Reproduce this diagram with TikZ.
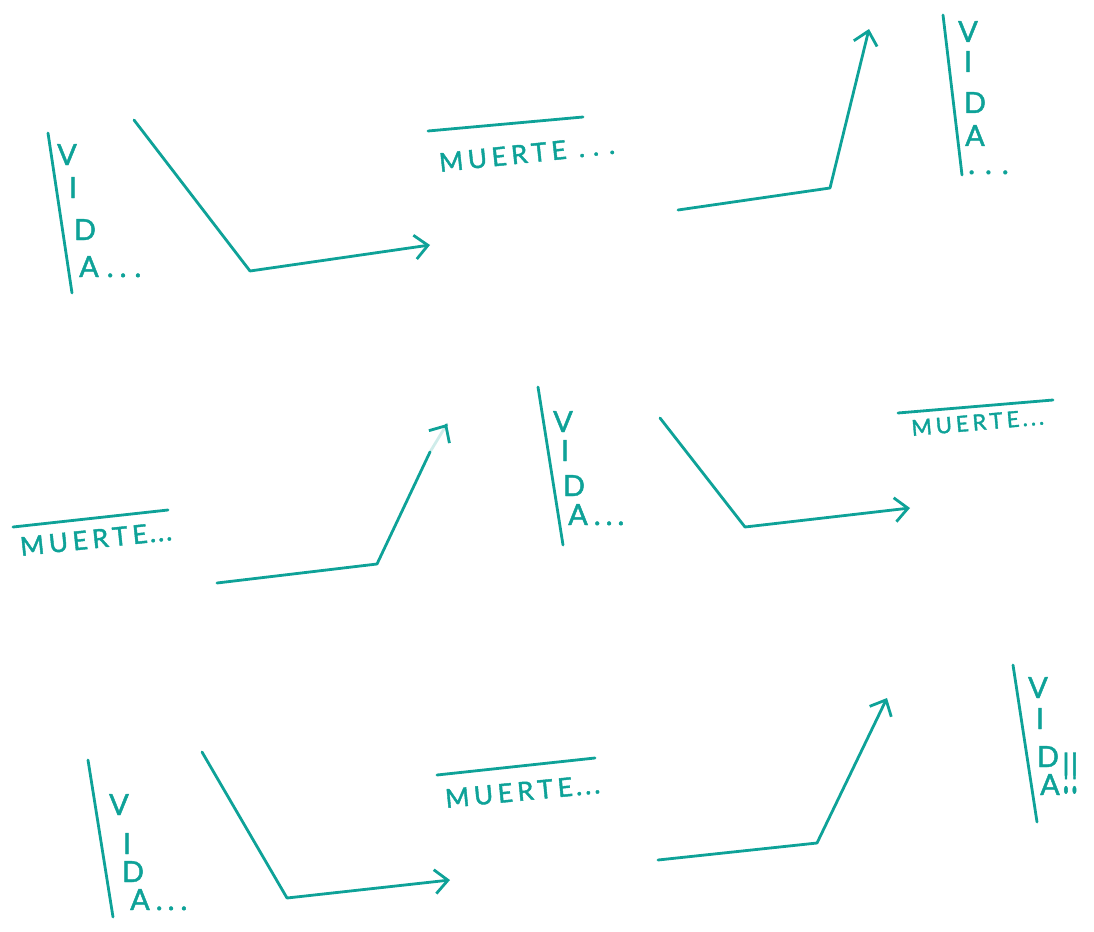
\documentclass[tikz,border=0pt]{standalone}
\usepackage{fontspec}
\setmainfont{Lato}
\newfontfamily\mano[LetterSpace=18,FakeBold=1.6]{Lato}
\usetikzlibrary{arrows.meta,calc}
\definecolor{verde}{RGB}{14,162,152}

\begin{document}
\begin{tikzpicture}[x=1pt,y=-1pt,
    tinta/.style={draw=verde, line width=2.8pt, line cap=round, line join=round},
    flecha/.style={tinta, -{Straight Barb[length=13pt,width=24pt]}},
    letra/.style={text=verde, font=\mano\fontsize{29}{29}\selectfont, inner sep=0pt,
        text height=20pt, text depth=0pt, anchor=base},
    frase/.style={text=verde, font=\mano\fontsize{26}{26}\selectfont, inner sep=0pt,
        text height=19pt, text depth=0pt, anchor=base west}]
    \useasboundingbox (0,0) rectangle (1094,931);

    % primera linea
    \coordinate (b1a) at (48,133);  \coordinate (b1b) at (72,293);
    \coordinate (z1a) at (134,120); \coordinate (z1b) at (250,271); \coordinate (z1c) at (430,245);
    \coordinate (m1a) at (428,131); \coordinate (m1b) at (583,117);
    \coordinate (z2a) at (678,210); \coordinate (z2b) at (830,188); \coordinate (z2c) at (869,29);
    \coordinate (b2a) at (943,15);  \coordinate (b2b) at (962,175);

    \draw[tinta] (b1a) -- (b1b);
    \foreach \l/\x/\y in {V/67/165, I/73/198, D/85/240}
        \node[letra] (v1\l) at (\x,\y) {\l};
    \node[letra, anchor=base west] (v1A) at (79,277) {A\hspace{8pt}.\hspace{6pt}.\hspace{8pt}.};
    \draw[flecha] (z1a) -- (z1b) -- (z1c);
    \draw[tinta] (m1a) -- (m1b);
    \node[frase, rotate=6] (m1) at (440,172) {MUERTE\hspace{12pt}.\hspace{8pt}.\hspace{10pt}.};
    \draw[flecha] (z2a) -- (z2b) -- (z2c);
    \draw[tinta] (b2a) -- (b2b);
    \foreach \l/\x/\y in {V/968/42, I/968/72, D/975/113, A/975/146}
        \node[letra] (v2\l) at (\x,\y) {\l};
    \node[letra, anchor=base west, text height=5pt] (v2p) at (968,174) {.\hspace{10pt}.\hspace{10pt}.};

    % segunda linea
    \coordinate (m2a) at (13,527);  \coordinate (m2b) at (168,510);
    \coordinate (z3a) at (217,583); \coordinate (z3b) at (377,564);
    \coordinate (z3c) at (430,452); \coordinate (z3d) at (447,424);
    \coordinate (b3a) at (538,387); \coordinate (b3b) at (563,545);
    \coordinate (z4a) at (660,418); \coordinate (z4b) at (745,527); \coordinate (z4c) at (910,508);
    \coordinate (m3a) at (898,413); \coordinate (m3b) at (1053,400);

    \draw[tinta] (m2a) -- (m2b);
    \node[frase, rotate=6] (m2) at (21,556) {MUERTE\hspace{2pt}.\hspace{2pt}.\hspace{2pt}.};
    \draw[tinta] (z3a) -- (z3b) -- (z3c);
    \draw[tinta, draw opacity=.2] (z3c) -- (z3d);
    \draw[flecha] ($(z3d)!1pt!(z3c)$) -- (z3d);
    \draw[tinta] (b3a) -- (b3b);
    \foreach \l/\x/\y in {V/563/432, I/565/461, D/574/496}
        \node[letra] (v3\l) at (\x,\y) {\l};
    \node[letra, anchor=base west] (v3A) at (568,525) {A\hspace{6pt}.\hspace{5pt}.\hspace{5pt}.};
    \draw[flecha] (z4a) -- (z4b) -- (z4c);
    \draw[tinta] (m3a) -- (m3b);
    \node[frase, rotate=5, font=\mano\fontsize{22}{22}\selectfont, text height=16pt] (m3) at (912,436) {MUERTE\hspace{3pt}.\hspace{3pt}.\hspace{3pt}.};

    % tercera linea
    \coordinate (b4a) at (88,760);  \coordinate (b4b) at (113,917);
    \coordinate (z5a) at (202,752); \coordinate (z5b) at (287,898); \coordinate (z5c) at (450,880);
    \coordinate (m4a) at (437,775); \coordinate (m4b) at (595,758);
    \coordinate (z6a) at (658,860); \coordinate (z6b) at (817,843); \coordinate (z6c) at (887,698);
    \coordinate (b5a) at (1013,665); \coordinate (b5b) at (1037,822);

    \draw[tinta] (b4a) -- (b4b);
    \foreach \l/\x/\y in {V/119/815, I/127/854, D/133/882}
        \node[letra] (v4\l) at (\x,\y) {\l};
    \node[letra, anchor=base west] (v4A) at (130,910) {A\hspace{6pt}.\hspace{5pt}.\hspace{6pt}.};
    \draw[flecha] (z5a) -- (z5b) -- (z5c);
    \draw[tinta] (m4a) -- (m4b);
    \node[frase, rotate=5.5] (m4) at (446,808) {MUERTE\hspace{3pt}.\hspace{3pt}.\hspace{3pt}.};
    \draw[flecha] (z6a) -- (z6b) -- (z6c);
    \draw[tinta] (b5a) -- (b5b);
    \foreach \l/\x/\y in {V/1038/698, I/1040/729, D/1048/767, A/1050/795}
        \node[letra] (v5\l) at (\x,\y) {\l};
    \node[letra, anchor=base west, yscale=2, font=\mano\fontsize{28}{28}\selectfont,
        text height=20pt] (v5ex) at (1062,793) {!\hspace{1pt}!};
\end{tikzpicture}
\end{document}
